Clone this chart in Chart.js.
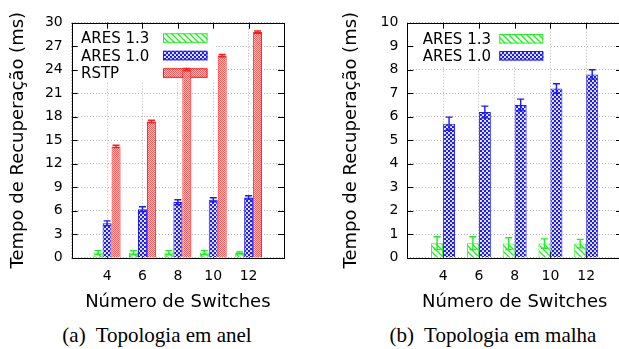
<!DOCTYPE html>
<html>
<head>
<meta charset="utf-8">
<script src="https://cdn.jsdelivr.net/npm/chart.js@4.4.0/dist/chart.umd.min.js"></script>
<style>
html, body { margin: 0; padding: 0; background: #fff; }
#wrap { position: relative; width: 619px; height: 349px; overflow: hidden; }
.box { position: absolute; top: 0; width: 300px; height: 320px; }
.cap { position: absolute; top: 325px; font-family: "Liberation Serif", serif; font-size: 21px; line-height: 21px; white-space: nowrap; transform: translateX(-50%); color: #000; }
.cap b { font-weight: normal; display: inline-block; width: 10px; }
</style>
</head>
<body>
<div id="wrap">
  <div class="box" style="left:0"><canvas id="anel" width="300" height="320"></canvas></div>
  <div class="box" style="left:336px"><canvas id="malha" width="300" height="320"></canvas></div>
  <div class="cap" style="left:157px">(a)<b></b>Topologia em anel</div>
  <div class="cap" style="left:493px">(b)<b></b>Topologia em malha</div>
</div>
<script>
// data
const categories = ['4', '6', '8', '10', '12']

const anelAres13 = [0.65, 0.65, 0.65, 0.65, 0.6]
const anelAres13Err = [0.25, 0.25, 0.25, 0.25, 0.12]
const anelAres10 = [4.4, 6.2, 7.1, 7.4, 7.7]
const anelAres10Err = [0.3, 0.3, 0.3, 0.25, 0.2]
const anelRstp = [14.2, 17.4, 24.0, 25.8, 28.8]
const anelRstpErr = [0.15, 0.15, 0.15, 0.15, 0.15]
const anelYTicks = [0, 3, 6, 9, 12, 15, 18, 21, 24, 27, 30]

const malhaAres13 = [0.62, 0.62, 0.6, 0.6, 0.6]
const malhaAres13Err = [0.27, 0.27, 0.25, 0.2, 0.18]
const malhaAres10 = [5.7, 6.2, 6.5, 7.2, 7.8]
const malhaAres10Err = [0.28, 0.25, 0.25, 0.2, 0.2]
const malhaYTicks = [0, 1, 2, 3, 4, 5, 6, 7, 8, 9, 10]

const FONT = '"DejaVu Sans", sans-serif'
const GREEN = '#22ee22', BLUE = '#1a1aff', RED = '#ff1a1a'

// fill patterns like gnuplot's
function makePattern(kind) {
    const c = document.createElement('canvas')
    const x = c.getContext('2d')
    if (kind === 'hatch') {
        c.width = c.height = 6
        x.fillStyle = '#fff'
        x.fillRect(0, 0, 6, 6)
        x.strokeStyle = GREEN
        x.lineWidth = 1.3
        x.beginPath()
        x.moveTo(-1, -1); x.lineTo(7, 7)
        x.moveTo(-1, 5); x.lineTo(1, 7)
        x.moveTo(5, -1); x.lineTo(7, 1)
        x.stroke()
    } else if (kind === 'dots') {
        c.width = c.height = 4
        x.fillStyle = BLUE
        x.fillRect(0, 0, 4, 4)
        x.fillStyle = '#fff'
        x.beginPath(); x.arc(1, 1, 1.05, 0, Math.PI * 2); x.fill()
        x.beginPath(); x.arc(3, 3, 1.05, 0, Math.PI * 2); x.fill()
    } else {
        c.width = c.height = 2
        x.fillStyle = '#ffd4d4'
        x.fillRect(0, 0, 2, 2)
        x.fillStyle = '#ff5a5a'
        x.fillRect(0, 0, 1, 1)
        x.fillRect(1, 1, 1, 1)
    }
    return x.createPattern(c, 'repeat')
}

const pad = arr => [null, ...arr, null]

function framePlugin(key) {
    return {
        id: 'frame',
        beforeDatasetsDraw(chart) {
            const { ctx, chartArea: a, scales } = chart
            ctx.save()
            // bottom ticks sit under the bars
            ctx.strokeStyle = '#000'
            ctx.lineWidth = 1
            ctx.beginPath()
            categories.forEach((c, i) => {
                const px = Math.round(scales.x.getPixelForValue(i + 1)) + 0.5
                ctx.moveTo(px, a.bottom); ctx.lineTo(px, a.bottom - 6)
            })
            ctx.stroke()
            // opaque key box
            ctx.fillStyle = '#fff'
            ctx.fillRect(a.left + 1, a.top + 1, key.boxRight - a.left - 1, key.boxBottom - a.top - 1)
            ctx.font = '15px ' + FONT
            ctx.textBaseline = 'alphabetic'
            chart.data.datasets.forEach((ds, i) => {
                const base = key.firstBase + i * key.rowStep
                ctx.fillStyle = '#000'
                ctx.fillText(ds.label, key.textX, base)
                ctx.fillStyle = ds.backgroundColor
                ctx.fillRect(key.sampleX, base - 10, key.sampleW, 9.5)
                ctx.strokeStyle = ds.borderColor
                ctx.strokeRect(key.sampleX + 0.5, base - 9.5, key.sampleW - 1, 8.5)
            })
            ctx.restore()
        },
        afterDatasetsDraw(chart) {
            const { ctx, chartArea: a, scales } = chart
            ctx.save()
            // error bars
            chart.data.datasets.forEach((ds, i) => {
                const meta = chart.getDatasetMeta(i)
                ctx.strokeStyle = ds.borderColor
                ctx.lineWidth = 1.4
                meta.data.forEach((el, j) => {
                    const v = ds.data[j]
                    if (v === null) return
                    const e = ds.errors[j]
                    const yt = scales.y.getPixelForValue(v + e)
                    const yb = scales.y.getPixelForValue(v - e)
                    const hw = 3.5
                    ctx.beginPath()
                    ctx.moveTo(el.x, yt); ctx.lineTo(el.x, yb)
                    ctx.moveTo(el.x - hw, yt); ctx.lineTo(el.x + hw, yt)
                    ctx.moveTo(el.x - hw, yb); ctx.lineTo(el.x + hw, yb)
                    ctx.stroke()
                })
            })
            // border and inward ticks
            ctx.strokeStyle = '#000'
            ctx.lineWidth = 1
            ctx.beginPath()
            categories.forEach((c, i) => {
                const px = Math.round(scales.x.getPixelForValue(i + 1)) + 0.5
                ctx.moveTo(px, a.top); ctx.lineTo(px, a.top + 6)
            })
            key.yTicks.forEach(t => {
                const py = Math.round(scales.y.getPixelForValue(t)) + 0.5
                ctx.moveTo(a.left, py); ctx.lineTo(a.left + 6, py)
                ctx.moveTo(a.right, py); ctx.lineTo(a.right - 6, py)
            })
            ctx.stroke()
            ctx.strokeRect(Math.round(a.left) + 0.5, Math.round(a.top) + 0.5,
                Math.round(a.right - a.left), Math.round(a.bottom - a.top))
            ctx.restore()
        }
    }
}

function makeChart(id, datasets, yTicks, opt) {
    const labels = ['', ...categories, '']
    new Chart(document.getElementById(id), {
        type: 'bar',
        data: { labels: labels, datasets: datasets },
        plugins: [framePlugin({ ...opt.key, yTicks: yTicks })],
        options: {
            responsive: false,
            animation: false,
            layout: { padding: { left: 0, top: 22.7, right: opt.padRight, bottom: 7.3 } },
            plugins: { legend: { display: false }, tooltip: { enabled: false } },
            datasets: { bar: { categoryPercentage: opt.catPct, barPercentage: 1.0, borderWidth: 1 } },
            scales: {
                x: {
                    offset: false,
                    grid: { offset: false, color: '#b8b8b8', drawTicks: false },
                    border: { display: false, dash: [1, 2] },
                    ticks: { autoSkip: false, maxRotation: 0, padding: 10, color: '#000', font: { family: FONT, size: 14 } },
                    title: { display: true, text: 'Número de Switches', color: '#000', padding: { top: 0, bottom: 0 }, font: { family: FONT, size: 18 } },
                    afterFit: s => { s.height = 55 }
                },
                y: {
                    min: yTicks[0],
                    max: yTicks[yTicks.length - 1],
                    afterBuildTicks: s => { s.ticks = yTicks.map(v => ({ value: v })) },
                    grid: { color: '#b8b8b8', drawTicks: false },
                    border: { display: false, dash: [1, 2] },
                    ticks: { padding: 9, color: '#000', font: { family: FONT, size: 14 } },
                    title: { display: true, text: 'Tempo de Recuperação (ms)', color: '#000', padding: { top: opt.titlePad, bottom: 0 }, font: { family: FONT, size: 18 } },
                    afterFit: s => { s.width = opt.yWidth }
                }
            }
        }
    })
}

const hatch = makePattern('hatch'), dots = makePattern('dots'), check = makePattern('check')

makeChart('anel', [
    { label: 'ARES 1.3', data: pad(anelAres13), errors: pad(anelAres13Err), backgroundColor: hatch, borderColor: GREEN },
    { label: 'ARES 1.0', data: pad(anelAres10), errors: pad(anelAres10Err), backgroundColor: dots, borderColor: BLUE },
    { label: 'RSTP', data: pad(anelRstp), errors: pad(anelRstpErr), backgroundColor: check, borderColor: RED }
], anelYTicks, {
    padRight: 16, yWidth: 71.7, titlePad: 8, catPct: 0.76,
    key: { boxRight: 215, boxBottom: 82, textX: 81, firstBase: 43.3, rowStep: 17.5, sampleX: 163, sampleW: 44.5 }
})

makeChart('malha', [
    { label: 'ARES 1.3', data: pad(malhaAres13), errors: pad(malhaAres13Err), backgroundColor: hatch, borderColor: GREEN },
    { label: 'ARES 1.0', data: pad(malhaAres10), errors: pad(malhaAres10Err), backgroundColor: dots, borderColor: BLUE }
], malhaYTicks, {
    padRight: 14, yWidth: 71.3, titlePad: 5, catPct: 0.67,
    key: { boxRight: 214, boxBottom: 66, textX: 86.7, firstBase: 44, rowStep: 17, sampleX: 163.3, sampleW: 44 }
})
</script>
</body>
</html>
